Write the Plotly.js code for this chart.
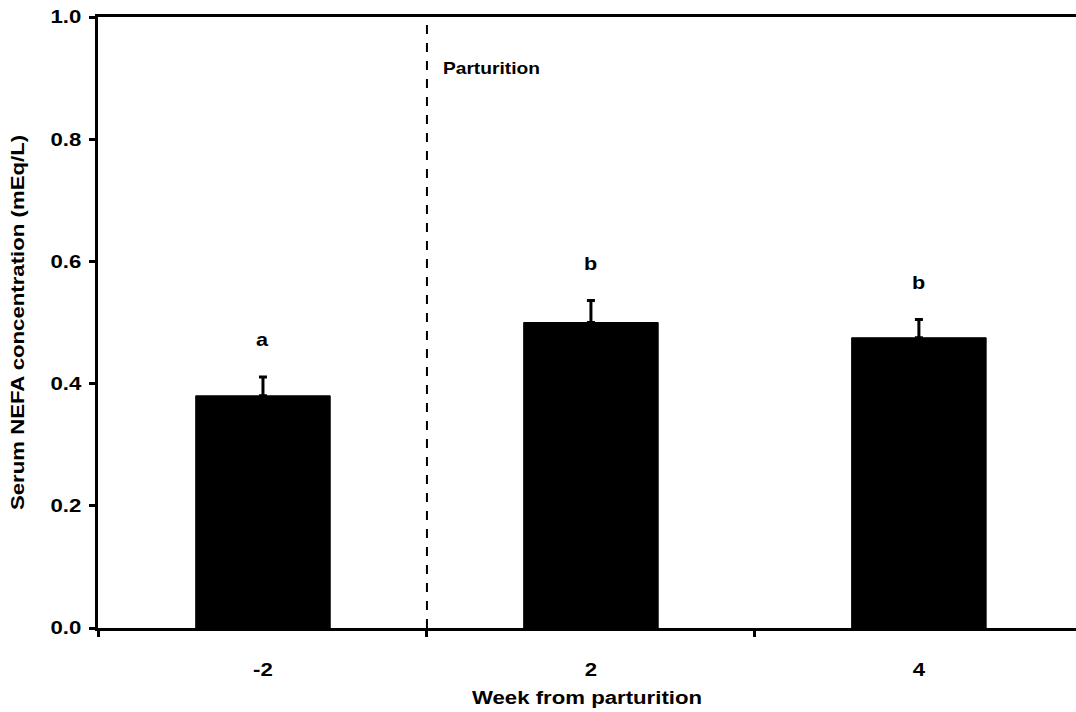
<!DOCTYPE html>
<html>
<head>
<meta charset="utf-8">
<script src="https://cdn.plot.ly/plotly-3.0.1.min.js"></script>
<style>html,body{margin:0;padding:0;overflow:hidden;background:#fff;}#chart{width:1076px;height:712px;}</style>
</head>
<body>
<div id="chart"></div>
<script>
const weeks = ["-2", "2", "4"];
const nefa = [0.38, 0.50, 0.475];
const sem = [0.031, 0.036, 0.03];
const letters = ["a", "b", "b"];
const letterOffset = 0.06;
const partitionLabel = "Parturition";

const font = {family: "Arial, 'Liberation Sans', sans-serif", color: "#000", weight: "bold"};
const F = (size) => Object.assign({}, font, {size: size});

const trace = {
  type: "bar",
  x: weeks,
  y: nefa,
  width: 0.41,
  marker: {color: "#000", line: {color: "#000", width: 1}},
  error_y: {type: "data", array: sem, visible: true, symmetric: false, arrayminus: [0,0,0], color: "#000", thickness: 3, width: 4},
  hoverinfo: "none"
};

const annotations = weeks.map((w, i) => ({
  x: i, y: nefa[i] + sem[i] + letterOffset, xref: "x", yref: "y",
  text: letters[i], showarrow: false, yanchor: "middle", xanchor: "center",
  font: F(18)
}));
annotations.push({
  x: 0.698, y: 0.9165, xref: "x", yref: "y", text: partitionLabel, showarrow: false,
  xanchor: "center", yanchor: "middle", font: F(16)
});

const layout = {
  width: 1076, height: 712,
  margin: {l: 98, r: 0, t: 17, b: 84},
  paper_bgcolor: "#fff", plot_bgcolor: "#fff",
  showlegend: false,
  xaxis: {
    type: "category", categoryorder: "array", categoryarray: weeks,
    range: [-0.503, 2.479],
    tickson: "boundaries", ticks: "outside", ticklen: 6, tickwidth: 3, tickcolor: "#000",
    showline: true, linewidth: 3, linecolor: "#000", mirror: true,
    showgrid: false, zeroline: false,
    tickfont: F(18.5),
    ticklabelstandoff: 23,
    title: {text: "Week from parturition", font: F(18.5), standoff: 12}
  },
  yaxis: {
    range: [0, 1.0], tickvals: [0, 0.2, 0.4, 0.6, 0.8, 1.0], tickformat: ".1f",
    ticks: "outside", ticklen: 6, tickwidth: 3, tickcolor: "#000",
    showline: true, linewidth: 3, linecolor: "#000", mirror: false,
    showgrid: false, zeroline: false,
    tickfont: F(18.5),
    ticklabelstandoff: 4,
    title: {text: "Serum NEFA concentration (mEq/L)", font: F(18.5), standoff: 27}
  },
  shapes: [{
    type: "line", xref: "x", yref: "paper", x0: 0.5, x1: 0.5, y0: 0, y1: 1,
    line: {color: "#000", width: 2, dash: "dash"}
  }],
  annotations: annotations
};

// The reference typeface is horizontally widened; widen the rendered text along its baseline.
function stretch(el, s) {
  const x = parseFloat(el.getAttribute("x")) || 0;
  const y = parseFloat(el.getAttribute("y")) || 0;
  const t = el.getAttribute("transform") || "";
  el.setAttribute("transform", t + " translate(" + x + "," + y + ") scale(" + s + ",1) translate(" + (-x) + "," + (-y) + ")");
}

Plotly.newPlot("chart", [trace], layout, {displayModeBar: false, staticPlot: true}).then(function (gd) {
  gd.querySelectorAll(".xtick text, .ytick text, .g-xtitle text, .g-ytitle text, text.annotation-text").forEach(function (el) {
    stretch(el, 1.2);
  });
});
</script>
</body>
</html>
